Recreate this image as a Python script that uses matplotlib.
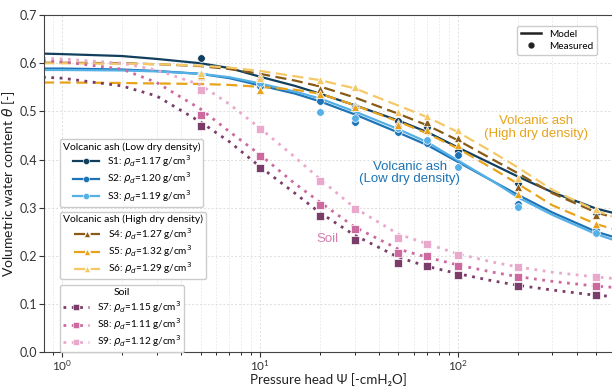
import numpy as np
import matplotlib
matplotlib.use("Agg")
import matplotlib.pyplot as plt
from matplotlib.lines import Line2D

plt.rcParams["font.family"] = ["Lato", "DejaVu Sans"]

# measured points
psi_meas = [5, 10, 20, 30, 50, 70, 100, 200, 500]
meas = {
    "S1": [0.610, 0.555, 0.527, 0.510, 0.481, 0.468, 0.418, 0.351, 0.290],
    "S2": [0.575, 0.553, 0.522, 0.479, 0.457, 0.435, 0.410, 0.307, 0.253],
    "S3": [0.576, 0.560, 0.498, 0.486, 0.465, 0.440, 0.385, 0.302, 0.248],
    "S4": [0.573, 0.573, 0.546, 0.513, 0.476, 0.478, 0.445, 0.342, 0.284],
    "S5": [0.575, 0.544, 0.537, 0.509, 0.471, 0.462, 0.430, 0.329, 0.266],
    "S6": [0.579, 0.570, 0.565, 0.550, 0.498, 0.490, 0.461, 0.361, 0.298],
    "S7": [0.470, 0.383, 0.283, 0.233, 0.186, 0.178, 0.160, 0.137, 0.118],
    "S8": [0.493, 0.408, 0.305, 0.255, 0.205, 0.199, 0.179, 0.157, 0.137],
    "S9": [0.544, 0.463, 0.355, 0.298, 0.237, 0.224, 0.201, 0.177, 0.156],
}

# model curves
psi_model = [0.8, 1, 2, 3, 5, 7, 10, 15, 20, 30, 50, 70, 100, 150, 200, 300, 500, 700]
model = {
    "S1": [0.620, 0.619, 0.615, 0.609, 0.600, 0.590, 0.572, 0.553, 0.537, 0.513, 0.481, 0.457,
           0.425, 0.390, 0.365, 0.332, 0.298, 0.283],
    "S2": [0.589, 0.589, 0.587, 0.584, 0.578, 0.569, 0.554, 0.537, 0.521, 0.494, 0.456, 0.430,
           0.395, 0.355, 0.327, 0.290, 0.250, 0.232],
    "S3": [0.586, 0.586, 0.585, 0.583, 0.578, 0.571, 0.558, 0.541, 0.527, 0.500, 0.463, 0.436,
           0.398, 0.355, 0.322, 0.285, 0.245, 0.225],
    "S4": [0.601, 0.601, 0.600, 0.598, 0.594, 0.588, 0.578, 0.564, 0.552, 0.529, 0.495, 0.471,
           0.440, 0.400, 0.372, 0.330, 0.290, 0.273],
    "S5": [0.560, 0.560, 0.559, 0.558, 0.557, 0.555, 0.551, 0.545, 0.537, 0.513, 0.479, 0.454,
           0.423, 0.381, 0.350, 0.305, 0.266, 0.248],
    "S6": [0.600, 0.600, 0.599, 0.598, 0.595, 0.591, 0.584, 0.573, 0.565, 0.548, 0.512, 0.488,
           0.457, 0.415, 0.384, 0.337, 0.294, 0.272],
    "S7": [0.571, 0.569, 0.553, 0.532, 0.478, 0.437, 0.385, 0.330, 0.290, 0.243, 0.197, 0.178,
           0.163, 0.148, 0.139, 0.129, 0.118, 0.114],
    "S8": [0.605, 0.603, 0.588, 0.560, 0.505, 0.458, 0.410, 0.350, 0.312, 0.260, 0.214, 0.197,
           0.181, 0.166, 0.157, 0.147, 0.137, 0.133],
    "S9": [0.610, 0.609, 0.600, 0.586, 0.555, 0.515, 0.465, 0.405, 0.360, 0.300, 0.245, 0.225,
           0.204, 0.187, 0.177, 0.166, 0.156, 0.151],
}

density = {"S1": "1.17", "S2": "1.20", "S3": "1.19", "S4": "1.27", "S5": "1.32",
           "S6": "1.29", "S7": "1.15", "S8": "1.11", "S9": "1.12"}
colors = {"S1": "#123f5e", "S2": "#1c74b6", "S3": "#55b0e6",
          "S4": "#8a5b17", "S5": "#e8a31b", "S6": "#f5c866",
          "S7": "#7a3c68", "S8": "#cc6aa0", "S9": "#e9a9cc"}
groups = [("Volcanic ash (Low dry density)", ["S1", "S2", "S3"], "-", "o"),
          ("Volcanic ash (High dry density)", ["S4", "S5", "S6"], (0, (5, 2.5)), "^"),
          ("Soil", ["S7", "S8", "S9"], (0, (1, 2)), "s")]

fig = plt.figure(figsize=(6.12, 3.87), dpi=100)
ax = fig.add_axes([0.072, 0.090, 0.928, 0.871])

legend_handles = []
for title, keys, ls, mk in groups:
    hs = []
    for k in keys:
        lw = 2.0 if mk == "s" else 1.6
        ax.plot(psi_model, model[k], color=colors[k], ls=ls, lw=lw, zorder=2)
        ax.plot(psi_meas, meas[k], ls="none", marker=mk, ms=5.5 if mk != "s" else 6,
                color=colors[k], mec="white", mew=0.5, zorder=3)
        hs.append(Line2D([], [], color=colors[k], ls=ls, lw=lw, marker=mk, ms=4.5,
                         mec="white", mew=0.4))
    legend_handles.append((title, keys, hs))

ax.set_xscale("log")
ax.set_xlim(0.81, 600)
ax.set_ylim(0, 0.7)
ax.set_yticks(np.arange(0, 0.71, 0.1))
ax.grid(True, which="major", color="#dddddd", ls=(0, (2, 2)), lw=0.7)
ax.grid(True, which="minor", axis="x", color="#e6e6e6", ls=(0, (2, 2)), lw=0.6)
ax.spines["right"].set_visible(False)
for s in ["left", "bottom", "top"]:
    ax.spines[s].set_color("#444444")
ax.tick_params(which="major", length=3.5)
ax.tick_params(which="minor", length=2)
ax.tick_params(labelsize=9, colors="#333333", pad=1.5)
ax.tick_params(axis="x", labelsize=8.5, pad=1)
ax.set_xlabel("Pressure head Ψ [-cmH₂O]", fontsize=9.6, color="#222222")
ax.xaxis.set_label_coords(0.5, -0.063)
ax.set_ylabel(r"Volumetric water content $\theta$ [-]", fontsize=10, color="#222222", labelpad=2)

tops = [0.632, 0.416, 0.198]
for (title, keys, hs), top in zip(legend_handles, tops):
    labels = [f"{k}: $\\rho_d$={density[k]} g/cm$^3$" for k in keys]
    leg = ax.legend(hs, labels, title=title, loc="upper left", bbox_to_anchor=(0.028, top),
                    fontsize=7.2, title_fontsize=7.5, handlelength=2.6, frameon=True,
                    borderaxespad=0, labelspacing=0.15, borderpad=0.3, handletextpad=0.8,
                    edgecolor="#cccccc", fancybox=True, framealpha=1)
    ax.add_artist(leg)

mh = [Line2D([], [], color="#222222", lw=1.8),
      Line2D([], [], color="#222222", ls="none", marker="o", ms=3.5)]
ax.legend(mh, ["Model", "Measured"], loc="upper right", bbox_to_anchor=(0.974, 0.968),
          fontsize=7.2, borderaxespad=0, handlelength=2.0, labelspacing=0.3,
          edgecolor="#cccccc", framealpha=1)

ax.text(248, 0.466, "Volcanic ash\n(High dry density)", color="#e8a31b", fontsize=9.5,
        ha="center", va="center", family=["Liberation Sans"], linespacing=1.1)
ax.text(57, 0.372, "Volcanic ash\n(Low dry density)", color="#1c74b6", fontsize=9.5,
        ha="center", va="center", family=["Liberation Sans"], linespacing=1.1)
ax.text(21.8, 0.234, "Soil", color="#d27fb0", fontsize=9.5, ha="center", va="center",
        family=["Liberation Sans"])

fig.savefig("out.png", dpi=100)
